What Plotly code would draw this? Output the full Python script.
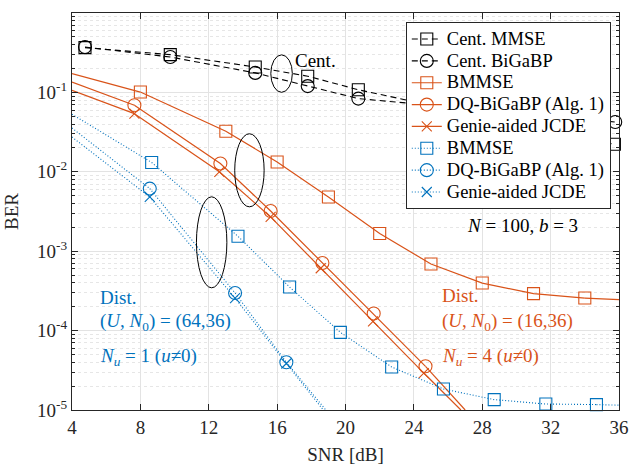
import plotly.graph_objects as go

# ---------------- data ----------------
# Centralized
cent_mmse_x = [4.76, 9.75, 14.72, 17.79, 20.75, 35.73]
cent_mmse_y = [0.366, 0.299, 0.209, 0.160, 0.108, 0.0222]
cent_bigabp_x = [4.76, 9.75, 14.72, 17.79, 20.75, 35.78]
cent_bigabp_y = [0.373, 0.279, 0.176, 0.120, 0.0835, 0.0424]

# Distributed (U, N0) = (16,36)  -- orange
o_bmmse_x = [8, 13, 16, 19, 22, 25, 28, 31, 34]
o_bmmse_y = [0.101, 0.0324, 0.0133, 0.00482, 0.00167, 6.9e-4, 3.97e-4, 2.92e-4, 2.57e-4]
o_bmmse_ext = [(4, 0.172), (36, 2.46e-4)]
o_dq_x = [7.65, 12.68, 15.62, 18.65, 21.65, 24.68]
o_dq_y = [0.0688, 0.0127, 3.21e-3, 7.1e-4, 1.64e-4, 3.55e-5]
o_dq_ext = [(4, 0.135), (27.0, 1e-5)]
o_genie_x = [7.65, 12.62, 15.62, 18.55, 21.61, 24.58]
o_genie_y = [0.054, 0.0100, 2.7e-3, 6.1e-4, 1.31e-4, 2.92e-5]
o_genie_ext = [(4, 0.106), (26.75, 1e-5)]

# Distributed (U, N0) = (64,36)  -- blue
b_bmmse_x = [8.66, 13.71, 16.73, 19.70, 22.70, 25.73, 28.70, 31.72, 34.68]
b_bmmse_y = [0.0131, 1.54e-3, 3.54e-4, 9.5e-5, 3.48e-5, 1.84e-5, 1.35e-5, 1.19e-5, 1.17e-5]
b_bmmse_ext = [(4, 0.053), (36, 1.15e-5)]
b_dq_x = [8.55, 13.54, 16.54]
b_dq_y = [6.14e-3, 2.98e-4, 3.99e-5]
b_dq_ext = [(4, 0.0356), (18.85, 1e-5)]
b_genie_x = [8.55, 13.54, 16.54]
b_genie_y = [4.82e-3, 2.57e-4, 3.85e-5]
b_genie_ext = [(4, 0.0274), (18.7, 1e-5)]

x_ticks = [4, 8, 12, 16, 20, 24, 28, 32, 36]
y_ticks = [1e-5, 1e-4, 1e-3, 1e-2, 1e-1, 1e0]
y_ticktext = ["10<sup>-5</sup>", "10<sup>-4</sup>", "10<sup>-3</sup>",
              "10<sup>-2</sup>", "10<sup>-1</sup>", "10<sup>0</sup>"]

X_RANGE = [4, 36]
Y_RANGE_LOG = [-5, 0]

# ---------------- style ----------------
FONT = "Liberation Serif, Times New Roman, serif"
BLACK = "#000000"
ORANGE = "#D95319"
BLUE = "#0072BD"
AX = "#262626"
LEG_TXT = 18.5

fig = go.Figure()

def add_series(name, x, y, color, dash, symbol, width, ext=None, msize=12):
    line = dict(color=color, width=width, dash=dash)
    if ext:
        # segments that run to the plot edge (no markers)
        (x0, y0), (x1, y1) = ext
        fig.add_trace(go.Scatter(x=[x0, x[0]], y=[y0, y[0]], mode="lines",
                                 line=line, showlegend=False, hoverinfo="skip"))
        fig.add_trace(go.Scatter(x=[x[-1], x1], y=[y[-1], y1], mode="lines",
                                 line=line, showlegend=False, hoverinfo="skip"))
    fig.add_trace(go.Scatter(
        x=x, y=y, mode="lines+markers", cliponaxis=False,
        name='<span style="font-size:%spx">%s</span>' % (LEG_TXT, name),
        line=line,
        marker=dict(symbol=symbol, size=msize, color=color,
                    line=dict(color=color, width=1.1)),
    ))

add_series("Cent. MMSE", cent_mmse_x, cent_mmse_y, BLACK, "6px,4px", "square-open", 1.1)
add_series("Cent. BiGaBP", cent_bigabp_x, cent_bigabp_y, BLACK, "6px,4px", "circle-open", 1.1, msize=13)
add_series("BMMSE", o_bmmse_x, o_bmmse_y, ORANGE, "solid", "square-open", 1.2, o_bmmse_ext)
add_series("DQ-BiGaBP (Alg. 1)", o_dq_x, o_dq_y, ORANGE, "solid", "circle-open", 1.2, o_dq_ext, msize=13)
add_series("Genie-aided JCDE", o_genie_x, o_genie_y, ORANGE, "solid", "x-thin-open", 1.2, o_genie_ext, msize=10)
add_series("BMMSE", b_bmmse_x, b_bmmse_y, BLUE, "1px,2px", "square-open", 1.1, b_bmmse_ext)
add_series("DQ-BiGaBP (Alg. 1)", b_dq_x, b_dq_y, BLUE, "1px,2px", "circle-open", 1.1, b_dq_ext, msize=13)
add_series("Genie-aided JCDE", b_genie_x, b_genie_y, BLUE, "1px,2px", "x-thin-open", 1.1, b_genie_ext, msize=10)

# ---------------- ellipses (x in dB, y in log10(BER)) -> paper coords ----------------
def px(x):
    return (x - X_RANGE[0]) / (X_RANGE[1] - X_RANGE[0])

def py(logy):
    return (logy - Y_RANGE_LOG[0]) / (Y_RANGE_LOG[1] - Y_RANGE_LOG[0])

ellipses = [
    (15.63, 16.89, -0.999, -0.527),
    (13.52, 15.24, -2.441, -1.521),
    (11.28, 13.06, -3.461, -2.315),
]
for x0, x1, y0, y1 in ellipses:
    fig.add_shape(type="circle", xref="paper", yref="paper",
                  x0=px(x0), x1=px(x1), y0=py(y0), y1=py(y1),
                  line=dict(color=BLACK, width=1))

# ---------------- text ----------------
def txt(x, logy, text, color, size=19):
    fig.add_annotation(x=x, y=logy, xref="x", yref="y", text=text, showarrow=False,
                       xanchor="left", yanchor="middle",
                       font=dict(family=FONT, size=size, color=color))

txt(16.93, -0.596, "Cent.", BLACK)
txt(26.97, -2.674, "<i>N</i> = 100, <i>b</i> = 3", BLACK)

txt(5.54, -3.577, "Dist.", BLUE)
txt(5.54, -3.892, "(<i>U</i>, <i>N</i><sub>0</sub>) = (64,36)", BLUE)
txt(5.54, -4.332, "<i>N</i><sub><i>u</i></sub> = 1 (<i>u</i>\u22600)", BLUE)

txt(25.54, -3.555, "Dist.", ORANGE)
txt(25.54, -3.892, "(<i>U</i>, <i>N</i><sub>0</sub>) = (16,36)", ORANGE)
txt(25.54, -4.332, "<i>N</i><sub><i>u</i></sub> = 4 (<i>u</i>\u22600)", ORANGE)

# ---------------- layout ----------------
fig.update_layout(
    width=639, height=472,
    margin=dict(l=72, r=10, t=13, b=62),
    paper_bgcolor="white", plot_bgcolor="white",
    font=dict(family=FONT, size=19, color=AX),
    legend=dict(x=0.985, y=0.977, xanchor="right", yanchor="top",
                bgcolor="white", bordercolor=AX, borderwidth=1,
                font=dict(family=FONT, size=14.5, color="#000000"),
                tracegroupgap=0, itemwidth=30),
    xaxis=dict(
        range=X_RANGE, tickvals=x_ticks, ticks="inside", ticklen=6, tickcolor=AX,
        showline=True, linecolor=AX, linewidth=1, mirror="allticks",
        showgrid=True, gridcolor="#e3e3e3", gridwidth=1, zeroline=False,
        title=dict(text="SNR [dB]", standoff=10, font=dict(size=19)),
        tickfont=dict(size=19),
    ),
    yaxis=dict(
        type="log", range=Y_RANGE_LOG, tickvals=y_ticks, ticktext=y_ticktext,
        ticks="inside", ticklen=6, tickcolor=AX,
        showline=True, linecolor=AX, linewidth=1, mirror="allticks",
        showgrid=True, gridcolor="#e3e3e3", gridwidth=1, zeroline=False,
        minor=dict(ticks="inside", ticklen=3, tickcolor=AX, dtick="D1",
                   showgrid=True, gridcolor="#e6e6e6", griddash="dot"),
        title=dict(text="BER", standoff=13, font=dict(size=19)),
        tickfont=dict(size=19),
    ),
)

fig.write_html("out.html")
